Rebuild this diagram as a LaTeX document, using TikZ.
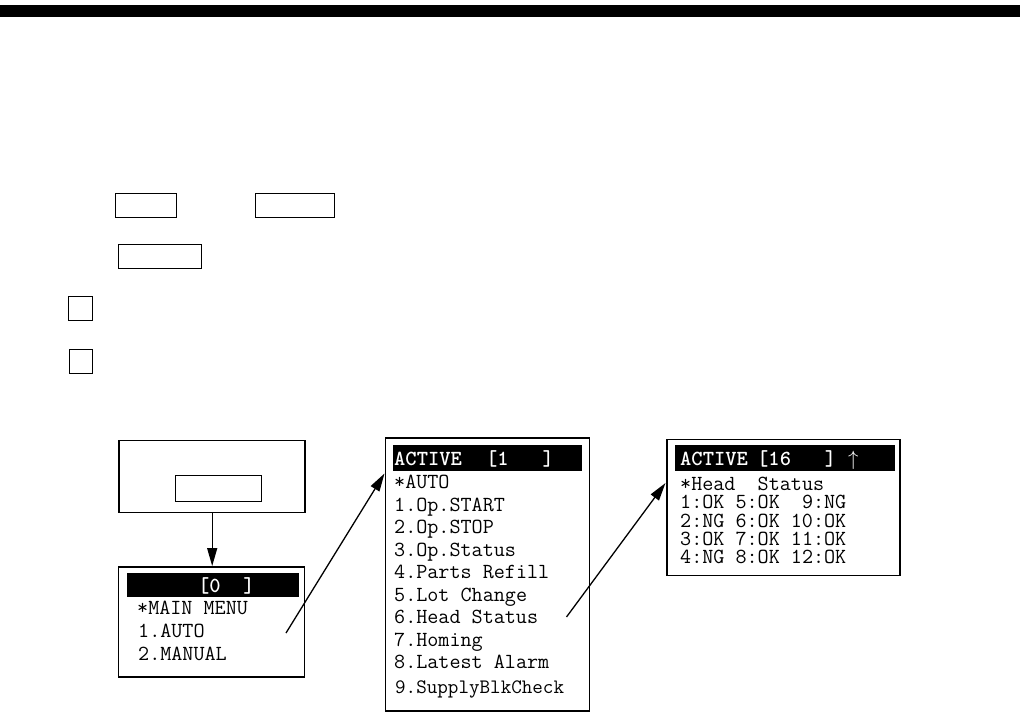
\documentclass[tikz,border=0pt]{standalone}
\usepackage{fontspec}
\usepackage{tikz}
\usetikzlibrary{positioning, arrows.meta}
\tikzset{
	keynode/.style={
			rectangle,
			draw=black,
			line width=1pt,
			inner sep=0pt
		},
	screennode/.style={
			rectangle,
			draw=black,
			line width=1.5pt,
			fill=white,
			inner sep=0pt
		},
	barnode/.style={
			rectangle,
			fill=black,
			inner sep=0pt
		},
	lcdline/.style={
			anchor=base west,
			inner sep=0pt,
			text height=13pt,
			text depth=3.5pt,
			font=\ttfamily\fontsize{21.5pt}{24pt}\selectfont
		},
	lcdtitle/.style={
			lcdline,
			text=white,
			font=\ttfamily\bfseries\fontsize{21.5pt}{24pt}\selectfont
		},
	pointer/.style={
			line width=1.3pt,
			-{Triangle[length=18pt, width=10pt]}
		}
}

\begin{document}
\begin{tikzpicture}[x=1pt, y=-1pt]

				\useasboundingbox (0,0) rectangle (1021,714);
				\fill (0,5) rectangle (1020,17);

				\node[keynode, minimum width=61pt, minimum height=24pt] (keya) at (146,205.3) {};
				\node[keynode, minimum width=79pt, minimum height=24pt] (keyb) at (295,205.3) {};
				\node[keynode, minimum width=83pt, minimum height=24pt] (keyc) at (160,256.3) {};
				\node[keynode, minimum width=24pt, minimum height=24pt] (sqa) at (80.5,308.3) {};
				\node[keynode, minimum width=23.5pt, minimum height=24pt] (sqb) at (81,361.3) {};

				\node[screennode, minimum width=186pt, minimum height=72pt] (scr) at (212.2,476.7) {};
				\node[keynode, minimum width=86pt, minimum height=26pt] (scrkey) at (218.8,488.7) {};

				\node[screennode, minimum width=186pt, minimum height=110pt] (mainmenu) at (211.3,621.8) {};
				\node[barnode, minimum width=172pt, minimum height=23.5pt] (mainbar) at (213.2,585) {};
				\node[lcdtitle] (maintitle) at (198,592) {[0~~]};
				\node[lcdline] (mainl1) at (137,614.5) {*MAIN MENU};
				\node[lcdline] (mainl2) at (138,637.5) {1.AUTO};
				\node[lcdline] (mainl3) at (138,660.5) {2.MANUAL};

				\node[screennode, minimum width=204pt, minimum height=273pt] (automenu) at (487.5,574.5) {};
				\node[barnode, minimum width=189pt, minimum height=25.7pt] (autobar) at (487.7,457.8) {};
				\node[lcdtitle] (autotitle) at (394,465) {ACTIVE};
				\node[lcdtitle] (autonum) at (486,465) {[1~~~]};
				\node[lcdline] (autol0) at (394,488.5) {*AUTO};
				\node[lcdline] (autol1) at (394,511) {1.Op.START};
				\node[lcdline] (autol2) at (394,533.5) {2.Op.STOP};
				\node[lcdline] (autol3) at (394,556) {3.Op.Status};
				\node[lcdline] (autol4) at (394,578.5) {4.Parts Refill};
				\node[lcdline] (autol5) at (394,601) {5.Lot Change};
				\node[lcdline] (autol6) at (394,623.5) {6.Head Status};
				\node[lcdline] (autol7) at (394,646) {7.Homing};
				\node[lcdline] (autol8) at (394,668.5) {8.Latest Alarm};
				\node[lcdline, font=\ttfamily\fontsize{20.5pt}{23pt}\selectfont] (autol9) at (395,693.5) {9.SupplyBlkCheck};

				\node[screennode, minimum width=233pt, minimum height=136pt] (headmenu) at (783.3,507.5) {};
				\node[barnode, minimum width=220pt, minimum height=25.7pt] (headbar) at (785,457.8) {};
				\node[lcdtitle] (headtitle) at (680,465) {ACTIVE};
				\node[lcdtitle] (headnum) at (757,465) {[16~~~]};
				\node[lcdline, text=white] (headup) at (848,465) {$\uparrow$};
				\node[lcdline] (headl0) at (680,490.5) {*Head~~Status};
				\node[lcdline] (headl1) at (680,508.5) {1:OK 5:OK~~9:NG};
				\node[lcdline] (headl2) at (680,527) {2:NG 6:OK 10:OK};
				\node[lcdline] (headl3) at (680,545.5) {3:OK 7:OK 11:OK};
				\node[lcdline] (headl4) at (680,563.5) {4:NG 8:OK 12:OK};

				\coordinate (autofrom) at (286,633);
				\coordinate (autoto) at (384.5,473.5);
				\coordinate (headfrom) at (566.5,617);
				\coordinate (headto) at (665.5,483);

				\draw[pointer] (scr.south) -- (scr.south |- mainmenu.north);
				\draw[pointer] (autofrom) -- (autoto);
				\draw[pointer] (headfrom) -- (headto);
			\end{tikzpicture}
\end{document}
